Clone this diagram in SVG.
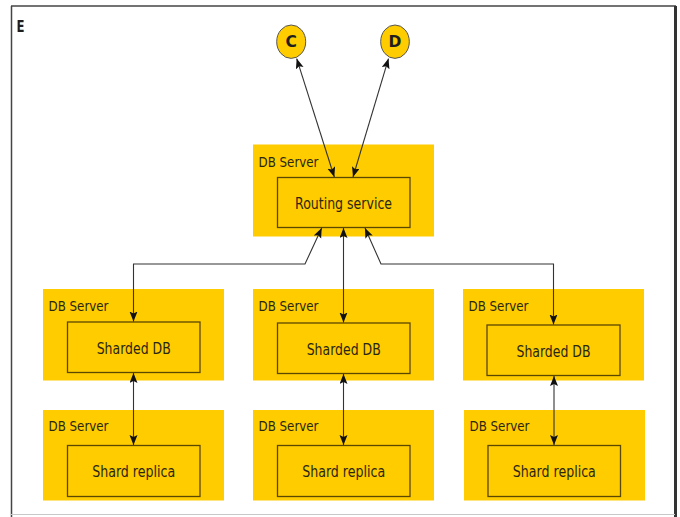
<svg xmlns="http://www.w3.org/2000/svg" width="680" height="517" viewBox="0 0 680 517">
  <style>
    .server { fill: #FFCC00; }
    .inner { fill: #FFCC00; stroke: #5a4700; stroke-width: 1.3; }
    .lbl { font-family: "DejaVu Sans", "Liberation Sans", sans-serif; font-size: 14.5px; fill: #2a2610; }
    .name { font-family: "DejaVu Sans", "Liberation Sans", sans-serif; font-size: 15px; fill: #2a2610; text-anchor: middle; }
    .bold { font-family: "DejaVu Sans", "Liberation Sans", sans-serif; font-size: 15.5px; font-weight: bold; fill: #1e1e1e; }
    .wire { fill: none; stroke: #333; stroke-width: 1.1; marker-start: url(#head); marker-end: url(#head); }
    .ext { fill: #FFCC00; stroke: #555; stroke-width: 1; }
  </style>
  <defs>
    <marker id="head" markerUnits="userSpaceOnUse" markerWidth="11" markerHeight="9" refX="10" refY="4" orient="auto-start-reverse">
      <path d="M0,0 L10,4 L0,8 L2,4 Z" fill="#111"/>
    </marker>
  </defs>

  <rect width="680" height="517" fill="#ffffff"/>

  <!-- enclosing frame E -->
  <g id="frame">
    <line x1="11.5" y1="6" x2="11.5" y2="517" stroke="#444" stroke-width="1.5"/>
    <line x1="11" y1="6" x2="676" y2="6" stroke="#444" stroke-width="1.5"/>
    <line x1="675.5" y1="6" x2="675.5" y2="517" stroke="#333" stroke-width="3"/>
    <line x1="11" y1="514.5" x2="675" y2="514.5" stroke="#c8c8c8" stroke-width="1"/>
    <text class="bold" x="16.5" y="32" textLength="8" lengthAdjust="spacingAndGlyphs">E</text>
  </g>

  <!-- external endpoints -->
  <g id="node-c">
    <ellipse class="ext" cx="291.2" cy="41.7" rx="14.5" ry="16.7"/>
    <text class="bold" x="291.2" y="47.2" text-anchor="middle">C</text>
  </g>
  <g id="node-d">
    <ellipse class="ext" cx="395" cy="41.7" rx="14.3" ry="16.7"/>
    <text class="bold" x="395" y="47.2" text-anchor="middle">D</text>
  </g>

  <!-- routing tier -->
  <g id="routing">
    <rect class="server" x="253" y="144.5" width="181" height="92"/>
    <text class="lbl" x="258.5" y="167" textLength="60" lengthAdjust="spacingAndGlyphs">DB Server</text>
    <rect class="inner" x="277.5" y="177.5" width="132.5" height="50"/>
    <text class="name" x="343.5" y="208.5" textLength="97" lengthAdjust="spacingAndGlyphs">Routing service</text>
  </g>

  <!-- shard tier -->
  <g id="shard-1">
    <rect class="server" x="43" y="289" width="181" height="91.5"/>
    <text class="lbl" x="48.5" y="311" textLength="60" lengthAdjust="spacingAndGlyphs">DB Server</text>
    <rect class="inner" x="67.5" y="322" width="132.5" height="50.5"/>
    <text class="name" x="133.7" y="353.5" textLength="74" lengthAdjust="spacingAndGlyphs">Sharded DB</text>
  </g>
  <g id="shard-2">
    <rect class="server" x="253" y="289" width="181" height="91.5"/>
    <text class="lbl" x="258.5" y="311" textLength="60" lengthAdjust="spacingAndGlyphs">DB Server</text>
    <rect class="inner" x="277.5" y="323" width="132.5" height="50.5"/>
    <text class="name" x="343.7" y="354.5" textLength="74" lengthAdjust="spacingAndGlyphs">Sharded DB</text>
  </g>
  <g id="shard-3">
    <rect class="server" x="463" y="289" width="181" height="91.5"/>
    <text class="lbl" x="468.5" y="311" textLength="60" lengthAdjust="spacingAndGlyphs">DB Server</text>
    <rect class="inner" x="487" y="325" width="133" height="50.5"/>
    <text class="name" x="553.5" y="357" textLength="74" lengthAdjust="spacingAndGlyphs">Sharded DB</text>
  </g>

  <!-- replica tier -->
  <g id="replica-1">
    <rect class="server" x="43" y="410" width="181" height="90.5"/>
    <text class="lbl" x="48.5" y="431" textLength="60" lengthAdjust="spacingAndGlyphs">DB Server</text>
    <rect class="inner" x="67.5" y="445.5" width="132.5" height="51"/>
    <text class="name" x="133.7" y="477" textLength="83" lengthAdjust="spacingAndGlyphs">Shard replica</text>
  </g>
  <g id="replica-2">
    <rect class="server" x="253" y="410" width="181" height="90.5"/>
    <text class="lbl" x="258.5" y="431" textLength="60" lengthAdjust="spacingAndGlyphs">DB Server</text>
    <rect class="inner" x="277.5" y="445.5" width="132.5" height="51"/>
    <text class="name" x="343.7" y="477" textLength="83" lengthAdjust="spacingAndGlyphs">Shard replica</text>
  </g>
  <g id="replica-3">
    <rect class="server" x="464" y="410" width="181" height="90.5"/>
    <text class="lbl" x="469.5" y="431" textLength="60" lengthAdjust="spacingAndGlyphs">DB Server</text>
    <rect class="inner" x="488" y="445.5" width="132.5" height="51"/>
    <text class="name" x="554.3" y="477" textLength="83" lengthAdjust="spacingAndGlyphs">Shard replica</text>
  </g>

  <!-- connectors -->
  <g id="connectors">
    <path class="wire" d="M334.3,177 L296.7,58.6"/>
    <path class="wire" d="M353,177 L388.5,58.6"/>
    <path class="wire" d="M321.7,228 L305,264 L133.5,264 L133.5,321.5"/>
    <path class="wire" d="M343.5,228 L343.5,322.5"/>
    <path class="wire" d="M365,228 L381,264 L553.5,264 L553.5,324.5"/>
    <path class="wire" d="M133.5,373 L133.5,445"/>
    <path class="wire" d="M343.5,374 L343.5,445"/>
    <path class="wire" d="M554,376 L554,445"/>
  </g>
</svg>
